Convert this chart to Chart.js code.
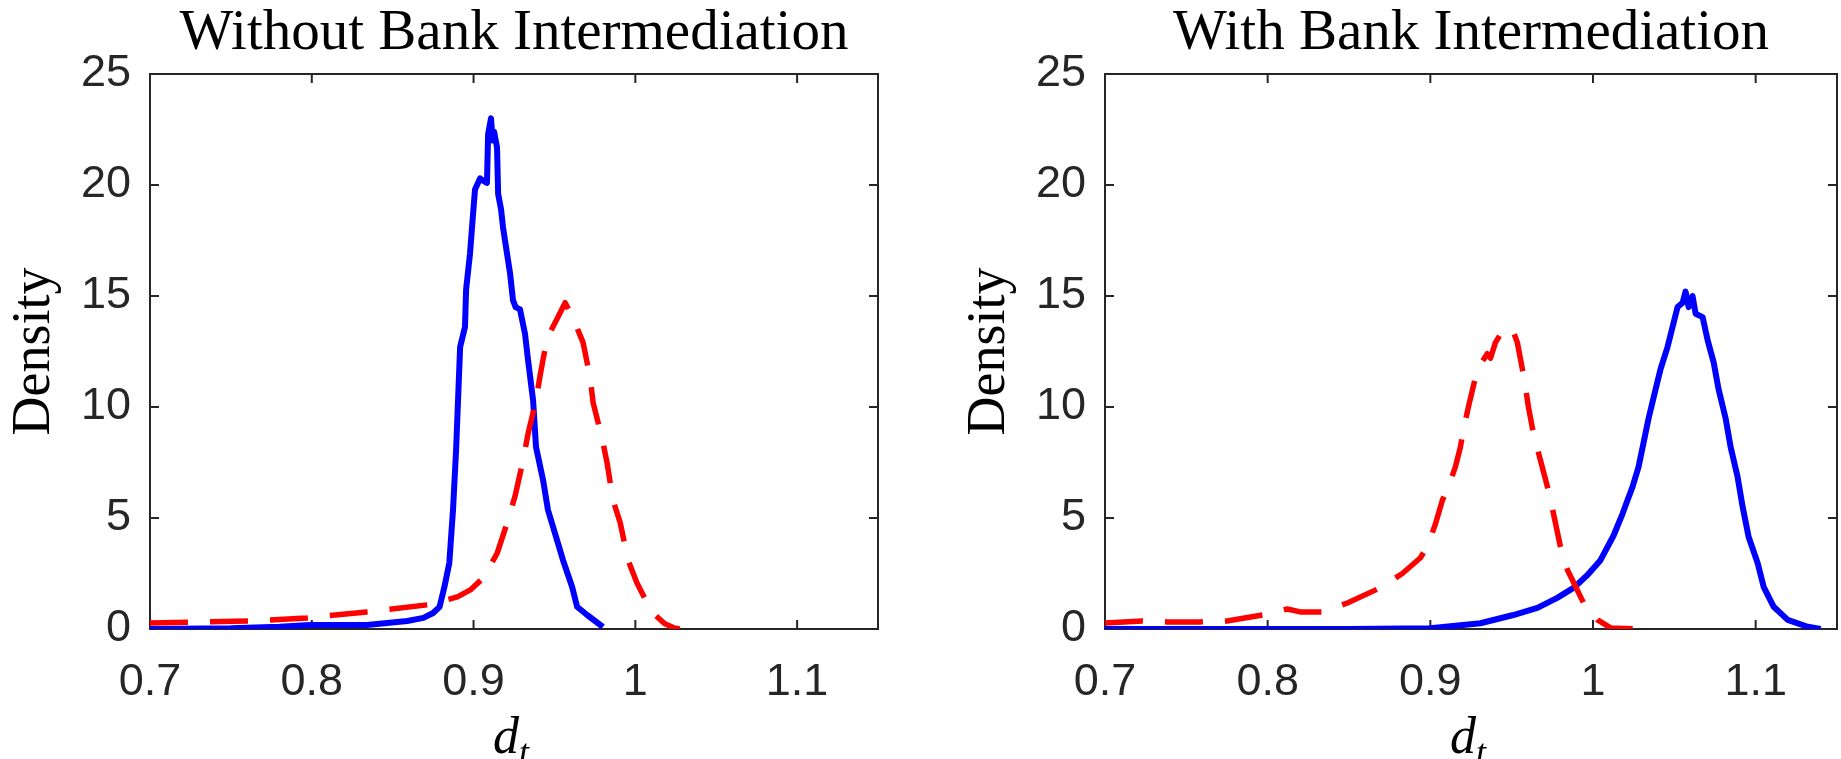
<!DOCTYPE html>
<html>
<head>
<meta charset="utf-8">
<script src="https://cdn.jsdelivr.net/npm/chart.js@4.4.1/dist/chart.umd.min.js"></script>
<style>
  html, body { margin: 0; padding: 0; background: #fff; }
  .panel { position: absolute; top: 0; }
</style>
</head>
<body>
<div class="panel" style="left:0"><canvas id="left-chart" width="920" height="759"></canvas></div>
<div class="panel" style="left:920px"><canvas id="right-chart" width="921" height="759"></canvas></div>
<script>
"use strict";
{
  // values
  const PANEL_TITLES = ["Without Bank Intermediation", "With Bank Intermediation"];
  const Y_LABEL = "Density";
  const X_TICKS = [0.7, 0.8, 0.9, 1, 1.1];
  const Y_TICKS = [0, 5, 10, 15, 20, 25];

  // without bank intermediation: blue solid
  const leftBlueX = [0.700, 0.750, 0.780, 0.799, 0.834, 0.859, 0.869, 0.875, 0.879, 0.882, 0.885, 0.8873,
    0.8892, 0.8904, 0.8917, 0.8947, 0.8954, 0.8978, 0.8997, 0.9009, 0.9028, 0.9040, 0.9059, 0.9083, 0.9090,
    0.9108, 0.9118, 0.9127, 0.9145, 0.9152, 0.9170, 0.9182, 0.9207, 0.9226, 0.9244, 0.9260, 0.9287, 0.9318,
    0.9337, 0.9368, 0.9386, 0.9430, 0.9460, 0.9516, 0.9553, 0.9609, 0.9640, 0.9702, 0.9800];
  const leftBlueY = [0.00, 0.03, 0.10, 0.18, 0.18, 0.36, 0.50, 0.72, 1.0, 1.9, 2.97, 5.36,
    8.06, 10.3, 12.7, 13.6, 15.3, 16.9, 18.7, 19.8, 20.1, 20.3, 20.2, 20.1, 22.3,
    23.0, 22.0, 22.4, 21.7, 19.6, 18.9, 18.1, 16.9, 16.0, 14.8, 14.5, 14.4, 13.3,
    12.1, 10.3, 8.2, 6.7, 5.36, 4.0, 3.1, 1.9, 1.0, 0.63, 0.09];

  // without bank intermediation: red dashed
  const leftRedX = [0.700, 0.762, 0.797, 0.834, 0.873, 0.890, 0.898, 0.906, 0.9145, 0.9213, 0.9257, 0.9306,
    0.9337, 0.9386, 0.9411, 0.9454, 0.9522, 0.9566, 0.9615, 0.9677, 0.9720, 0.9739, 0.9794, 0.9825, 0.9862,
    0.9906, 0.9955, 1.0010, 1.0073, 1.0122, 1.0180, 1.0240, 1.0275];
  const leftRedY = [0.27, 0.36, 0.50, 0.77, 1.10, 1.45, 1.76, 2.30, 3.4, 4.9, 6.0, 7.6,
    8.8, 10.3, 11.4, 13.1, 14.05, 14.7, 14.0, 12.9, 11.35, 10.2, 8.6, 7.5, 5.8,
    4.8, 3.1, 2.07, 1.17, 0.63, 0.25, 0.05, 0.0];

  // with bank intermediation: blue solid
  const rightBlueX = [0.700, 0.850, 0.900, 0.9308, 0.951, 0.9658, 0.978, 0.988, 0.9966, 1.0046, 1.0126,
    1.0182, 1.0212, 1.0243, 1.0280, 1.0311, 1.0342, 1.0385, 1.0415, 1.0458, 1.0489, 1.0520, 1.0551,
    1.0569, 1.0588, 1.0612, 1.0631, 1.0674, 1.0705, 1.0742, 1.0772, 1.0815, 1.0846, 1.0889, 1.0920,
    1.0957, 1.1012, 1.1049, 1.1111, 1.1197, 1.1320, 1.1400];
  const rightBlueY = [0.0, 0.0, 0.03, 0.26, 0.63, 0.95, 1.4, 1.85, 2.43, 3.1, 4.2,
    5.2, 5.8, 6.4, 7.3, 8.4, 9.5, 10.8, 11.7, 12.7, 13.6, 14.5, 14.7,
    15.2, 14.5, 15.0, 14.2, 14.05, 13.0, 12.0, 10.8, 9.5, 8.2, 6.85, 5.5,
    4.14, 2.97, 1.9, 1.0, 0.41, 0.1, 0.0];

  // with bank intermediation: red dashed
  const rightRedX = [0.700, 0.723, 0.738, 0.758, 0.775, 0.797, 0.812, 0.820, 0.834, 0.849, 0.869, 0.8828,
    0.8938, 0.898, 0.903, 0.9074, 0.9105, 0.9154, 0.9185, 0.9203, 0.9234, 0.9289, 0.9350, 0.9370, 0.9400,
    0.9449, 0.9505, 0.9535, 0.9566, 0.9585, 0.9603, 0.9634, 0.9677, 0.9720, 0.9757, 0.9800, 0.9843,
    0.9874, 0.9942, 1.0028, 1.0108, 1.0300];
  const rightRedY = [0.27, 0.36, 0.32, 0.32, 0.36, 0.63, 0.90, 0.77, 0.77, 1.17, 1.85, 2.5,
    3.2, 3.7, 4.7, 5.8, 6.3, 7.3, 8.2, 8.96, 10.0, 11.7, 12.4, 12.2, 12.9,
    13.5, 13.5, 12.9, 11.7, 10.9, 10.0, 8.8, 7.6, 6.4, 5.2, 3.7, 2.66,
    2.2, 1.17, 0.41, 0.05, 0.0];

  const AXIS_COLOR = "#262626";
  const SERIF = "'Liberation Serif', 'Times New Roman', serif";
  const SANS = "'Liberation Sans', Arial, Helvetica, sans-serif";

  function toPoints(xs, ys) {
    return xs.map((x, i) => ({ x: x, y: ys[i] }));
  }

  // box round the plot, inward ticks on all four sides, and the d_t label
  const framePlugin = {
    id: "frame",
    beforeDatasetsDraw(chart) {
      const { ctx, chartArea: a } = chart;
      const xs = chart.scales.x;
      const ys = chart.scales.y;
      const len = 9;
      ctx.save();
      ctx.strokeStyle = AXIS_COLOR;
      ctx.lineWidth = 2;
      ctx.strokeRect(a.left, a.top, a.right - a.left, a.bottom - a.top);
      ctx.beginPath();
      X_TICKS.forEach((v) => {
        const px = xs.getPixelForValue(v);
        ctx.moveTo(px, a.bottom);
        ctx.lineTo(px, a.bottom - len);
        ctx.moveTo(px, a.top);
        ctx.lineTo(px, a.top + len);
      });
      Y_TICKS.forEach((v) => {
        const py = ys.getPixelForValue(v);
        ctx.moveTo(a.left, py);
        ctx.lineTo(a.left + len, py);
        ctx.moveTo(a.right, py);
        ctx.lineTo(a.right - len, py);
      });
      ctx.stroke();
      ctx.restore();
    },
    afterDraw(chart) {
      const { ctx, chartArea: a } = chart;
      const cx = (a.left + a.right) / 2 - 3;
      ctx.save();
      ctx.fillStyle = "#000";
      ctx.textBaseline = "alphabetic";
      ctx.font = "italic 52px " + SERIF;
      const dw = ctx.measureText("d").width;
      ctx.font = "italic 36px " + SERIF;
      const tw = ctx.measureText("t").width;
      const start = cx - (dw + tw) / 2;
      ctx.font = "italic 52px " + SERIF;
      ctx.fillText("d", start, 753);
      ctx.font = "italic 36px " + SERIF;
      ctx.fillText("t", start + dw, 764);
      ctx.restore();
    },
  };

  function createPanel(canvasId, title, blue, red, pad) {
    const ctx = document.getElementById(canvasId).getContext("2d");
    return new Chart(ctx, {
      type: "line",
      data: {
        datasets: [
          {
            data: toPoints(red[0], red[1]),
            borderColor: "#ff0000",
            borderWidth: 5.5,
            borderDash: [38, 22],
            borderJoinStyle: "round",
            pointRadius: 0,
            tension: 0,
          },
          {
            data: toPoints(blue[0], blue[1]),
            borderColor: "#0000ff",
            borderWidth: 6,
            borderJoinStyle: "round",
            pointRadius: 0,
            tension: 0,
          },
        ],
      },
      options: {
        responsive: false,
        animation: false,
        layout: { padding: pad },
        scales: {
          x: {
            type: "linear",
            min: 0.7,
            max: 1.15,
            afterBuildTicks: (scale) => {
              scale.ticks = X_TICKS.map((v) => ({ value: v }));
            },
            afterFit: (scale) => {
              scale.height = 130;
            },
            grid: { display: false, drawTicks: false },
            border: { display: false },
            ticks: {
              color: AXIS_COLOR,
              font: { family: SANS, size: 45 },
              padding: 27,
              maxRotation: 0,
              autoSkip: false,
              callback: (value) => String(value),
            },
          },
          y: {
            min: 0,
            max: 25,
            afterBuildTicks: (scale) => {
              scale.ticks = Y_TICKS.map((v) => ({ value: v }));
            },
            afterFit: (scale) => {
              scale.width = 150;
            },
            grid: { display: false, drawTicks: false },
            border: { display: false },
            ticks: {
              color: AXIS_COLOR,
              font: { family: SANS, size: 45 },
              padding: 19,
            },
            title: {
              display: true,
              text: Y_LABEL,
              color: "#000",
              font: { family: SERIF, size: 54, lineHeight: 1 },
              padding: { top: 8, bottom: 0 },
            },
          },
        },
        plugins: {
          legend: { display: false },
          tooltip: { enabled: false },
          title: {
            display: true,
            fullSize: false,
            text: title,
            color: "#000",
            font: { family: SERIF, size: 57, weight: "normal", lineHeight: 1.1 },
            padding: { top: 2.4, bottom: 8.9 },
          },
        },
      },
      plugins: [framePlugin],
    });
  }

  createPanel("left-chart", PANEL_TITLES[0], [leftBlueX, leftBlueY], [leftRedX, leftRedY],
    { left: 0, right: 42, top: 0, bottom: 0 });
  createPanel("right-chart", PANEL_TITLES[1], [rightBlueX, rightBlueY], [rightRedX, rightRedY],
    { left: 35, right: 4, top: 0, bottom: 0 });
}
</script>
</body>
</html>
